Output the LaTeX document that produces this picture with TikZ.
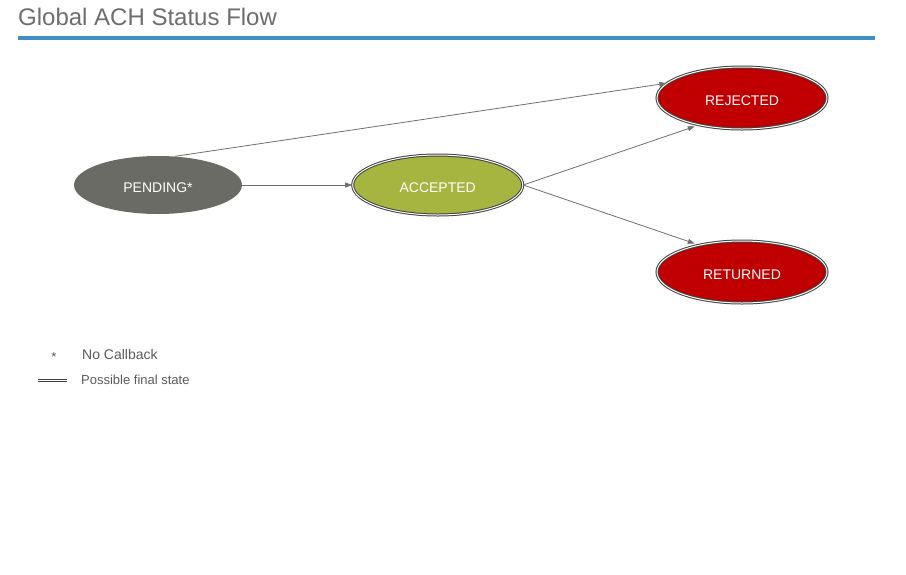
\documentclass[tikz,border=0pt]{standalone}
\usepackage{fontspec}
\setmainfont{Liberation Sans}
\usetikzlibrary{shapes.geometric,positioning,arrows.meta}
\definecolor{titlegray}{HTML}{6D6D6D}
\definecolor{barblue}{HTML}{3F8FC5}
\definecolor{pendgray}{HTML}{6B6B65}
\definecolor{accgreen}{HTML}{A6B53F}
\definecolor{rejred}{HTML}{C00000}
\definecolor{arrowgray}{HTML}{6F6F6F}
\definecolor{legendgray}{HTML}{5A5A5A}

\tikzset{
  state/.style={ellipse, minimum width=168pt, minimum height=58pt, inner sep=0pt,
    text=white, text height=14pt, text depth=0pt, font=\fontsize{14}{16}\selectfont},
  final/.style={state, draw=black!75, line width=1pt, double=white,
    double distance=1pt, minimum width=170pt, minimum height=60pt},
  trans/.style={-{Triangle[length=7pt,width=5pt]}, draw=arrowgray, line width=0.8pt},
  legend/.style={text=legendgray, inner sep=0pt}
}

\begin{document}
\begin{tikzpicture}[x=1pt,y=-1pt]
         \useasboundingbox (0,0) rectangle (906,574);
         % title
         \node[anchor=base west, inner sep=0pt, text=titlegray,
           font=\fontsize{24}{28}\selectfont] (title) at (18,25) {Global ACH Status Flow};
         \fill[barblue] (18,36) rectangle (875,40);

         % states
         \node[state, fill=pendgray] (pending) at (158,185) {PENDING*};%
         \node[final, fill=accgreen, right = 110pt of pending] (accepted) {ACCEPTED};%
         \node[final, fill=rejred, minimum height=62pt] (rejected) at (742,98) {REJECTED};%
         \node[final, fill=rejred, minimum height=62pt] (returned) at (742,272) {RETURNED};%

         % transitions
         \draw[trans] (pending.60) -- (rejected.169);
         \draw[trans] (pending.east) -- (accepted.west);
         \draw[trans, shorten >=4pt] (accepted.east) -- (rejected.212);
         \draw[trans, shorten >=4pt] (accepted.east) -- (returned.148);

         % legend
         \node[legend, anchor=base, font=\fontsize{13}{15}\selectfont] (star) at (54,361) {*};
         \node[legend, anchor=base west, font=\fontsize{14}{16}\selectfont] (nocb) at (82,359) {No Callback};
         \coordinate (dblA) at (38,380.5);
         \coordinate (dblB) at (67,380.5);
         \draw[black!75, line width=1pt, double=white, double distance=1pt] (dblA) -- (dblB);
         \node[legend, anchor=base west, font=\fontsize{13}{15}\selectfont] (finalst) at (81,384) {Possible final state};
\end{tikzpicture}
\end{document}
